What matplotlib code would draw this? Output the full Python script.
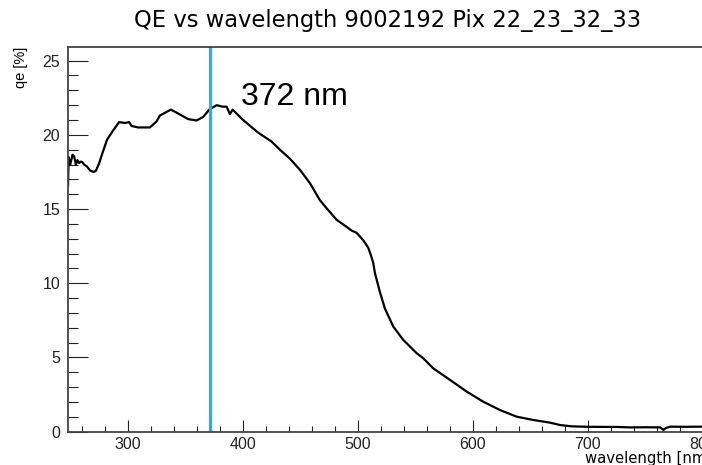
import matplotlib
matplotlib.use('Agg')
import matplotlib.pyplot as plt
from matplotlib.ticker import MultipleLocator
import numpy as np

# QE curve
wavelength = [248.3, 248.8, 250.2, 252.2, 253.6, 255.1, 256.5, 257.9, 259.4, 260.9,
              262.3, 264.7, 267.5, 270.5, 272.5, 275.4, 277.7, 280.1, 282.1, 287.5,
              292.7, 297.7, 301.4, 303.5, 309.2, 319.4, 325.2, 328.1, 337.7, 342.6,
              352.7, 360.0, 365.7, 371.0, 377.4, 382.6, 386.1, 389.0, 391.3, 400.5,
              413.5, 425.2, 432.4, 441.1, 449.8, 458.5, 467.2, 473.0, 481.7, 490.4,
              494.8, 499.1, 504.9, 509.2, 511.5, 513.6, 515.0, 519.4, 523.7, 531.0,
              539.7, 542.6, 551.3, 557.0, 565.7, 580.3, 594.8, 609.2, 623.7, 638.3,
              652.7, 667.2, 675.9, 686.1, 700.0, 725.0, 737.0, 750.0, 763.0, 765.8,
              768.0, 771.7, 785.0, 800.0, 808.0]
qe = [16.6, 18.5, 18.0, 18.66, 18.55, 18.0, 18.3, 18.1, 18.2, 18.15,
      18.0, 17.87, 17.6, 17.5, 17.58, 18.1, 18.66, 19.2, 19.66, 20.3,
      20.86, 20.8, 20.86, 20.6, 20.5, 20.5, 20.9, 21.3, 21.7, 21.5,
      21.06, 20.97, 21.2, 21.7, 22.0, 21.9, 21.9, 21.4, 21.7, 21.0,
      20.15, 19.55, 19.0, 18.4, 17.65, 16.75, 15.6, 15.06, 14.28, 13.8,
      13.55, 13.4, 12.9, 12.4, 11.9, 11.36, 10.7, 9.4, 8.3, 7.08,
      6.18, 5.96, 5.29, 4.95, 4.27, 3.49, 2.70, 2.02, 1.46, 1.01,
      0.79, 0.61, 0.45, 0.36, 0.33, 0.32, 0.29, 0.30, 0.29, 0.12,
      0.25, 0.34, 0.33, 0.34, 0.34]
marker_wl = 372
title = 'QE vs wavelength 9002192 Pix 22_23_32_33'

W, H = 702, 465
fig = plt.figure(figsize=(W / 100, H / 100), dpi=100)
plt.rcParams['font.family'] = ['Liberation Sans', 'DejaVu Sans']

# frame runs off the right edge like in the reference
ax = fig.add_axes([67.7 / W, 33.3 / H, (712 - 67.7) / W, 384.4 / H])
ax.plot(wavelength, qe, color='black', lw=1.6)
ax.axvline(marker_wl, color='#1cb4f0', lw=2.3)
ax.text(399, 22.0, '%d nm' % marker_wl, fontsize=23, va='baseline', ha='left')

ax.set_xlim(248, 808)
ax.set_ylim(0, 25.9)
ax.xaxis.set_major_locator(MultipleLocator(100))
ax.xaxis.set_minor_locator(MultipleLocator(20))
ax.yaxis.set_major_locator(MultipleLocator(5))
ax.yaxis.set_minor_locator(MultipleLocator(1))

for s in ax.spines.values():
    s.set_color('#444444')
    s.set_linewidth(1.3)
ax.tick_params(which='both', direction='in', colors='#222222', width=0.8, labelsize=11.5)
ax.tick_params(axis='x', which='major', length=8.6, pad=3.6)
ax.tick_params(axis='x', which='minor', length=4.3)
ax.tick_params(axis='y', which='major', length=14.4, pad=5.5)
ax.tick_params(axis='y', which='minor', length=7.2)

fig.text(388 / W, 1 - 27.3 / H, title, ha='center', va='baseline',
         fontsize=16.3, family='DejaVu Sans')
fig.text(20.8 / W, 1 - 47 / H, 'qe [%]', rotation=90, ha='center', va='top', fontsize=10.5)
fig.text(712 / W, 2.5 / H, 'wavelength [nm]', ha='right', va='baseline',
         fontsize=10.7, family='DejaVu Sans')

fig.savefig('out.png', dpi=100)
